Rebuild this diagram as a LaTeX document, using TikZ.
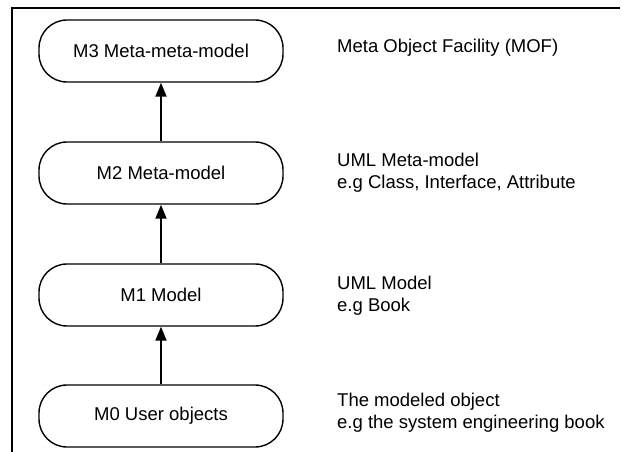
\documentclass[tikz,border=0pt]{standalone}
\usepackage{fontspec}
\setmainfont{Liberation Sans}
\usetikzlibrary{arrows.meta}
\begin{document}
\begin{tikzpicture}[x=1pt,y=-1pt,
  level/.style={draw, line width=1.4pt, rounded corners=28pt, minimum width=244pt, minimum height=62pt, inner sep=0pt, font=\fontsize{18.5}{21}\selectfont},
  desc/.style={anchor=west, align=left, inner sep=0pt, font=\fontsize{18.5}{22}\selectfont},
  up/.style={line width=1.8pt, -{Triangle[length=14pt,width=11pt]}},
  frame/.style={line width=1.4pt}]
\useasboundingbox (0,0) rectangle (630,452);
\coordinate (fb) at (12,452);
\coordinate (fc) at (12,8);
\coordinate (fr) at (620,8);
\draw[frame] (fb) -- (fc) -- (fr);
\node[level] (m3) at (161,51) {M3 Meta-meta-model};
\node[level] (m2) at (161,173) {M2 Meta-model};
\node[level] (m1) at (161,295) {M1 Model};
\node[level] (m0) at (161,416) {M0 User objects};
\node[desc] (t3) at (337,48) {Meta Object Facility (MOF)};
\node[desc] (t2) at (337,173) {UML Meta-model\\e.g Class, Interface, Attribute};
\node[desc] (t1) at (337,296) {UML Model\\e.g Book};
\node[desc] (t0) at (337,413) {The modeled object\\e.g the system engineering book};
\draw[up] (m2.north) -- (m3.south);
\draw[up] (m1.north) -- (m2.south);
\draw[up] (m0.north) -- (m1.south);
\end{tikzpicture}
\end{document}
